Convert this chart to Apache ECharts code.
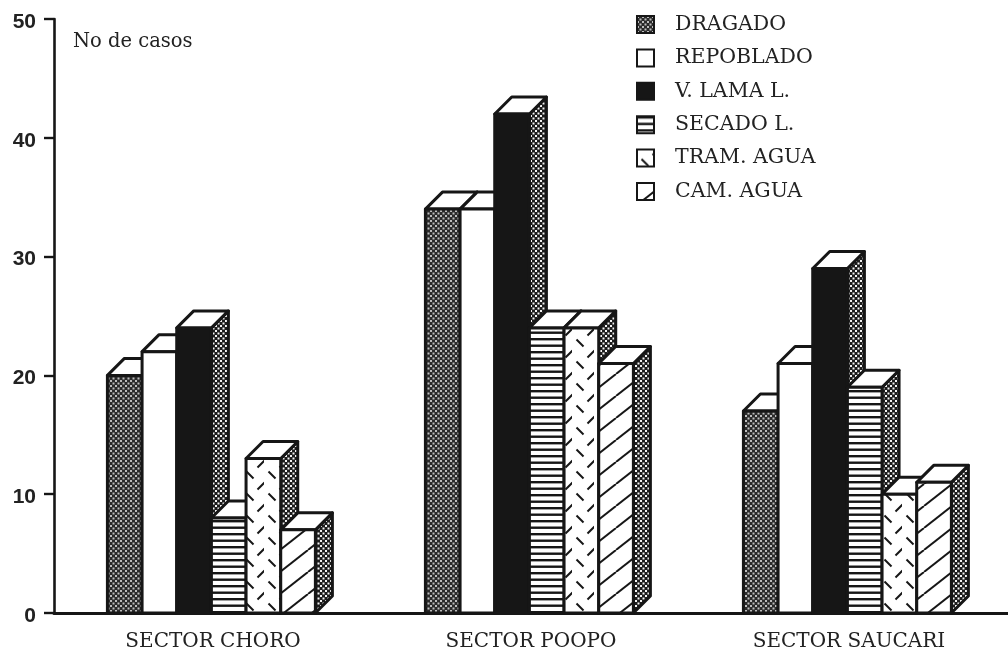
<!DOCTYPE html>
<html><head><meta charset="utf-8">
<style>html,body{margin:0;padding:0;background:#fff}#c{width:1008px;height:654px}</style>
<script src="https://cdn.jsdelivr.net/npm/echarts@6/dist/echarts.min.js"></script>
</head><body><div id="c"></div>
<script>
const categories = ['SECTOR CHORO','SECTOR POOPO','SECTOR SAUCARI'];
const seriesNames = ['DRAGADO','REPOBLADO','V. LAMA L.','SECADO L.','TRAM. AGUA','CAM. AGUA'];
const dragado   = [20,34,17];
const repoblado = [22,34,21];
const vLama     = [24,42,29];
const secado    = [8,24,19];
const tram      = [13,24,10];
const cam       = [7,21,11];
const allValues = [dragado,repoblado,vLama,secado,tram,cam];
const yTicks = {min:0,max:50,interval:10};

const INK='#161616';
function tile(w,h,draw){const c=document.createElement('canvas');c.width=w;c.height=h;const g=c.getContext('2d');draw(g);return {image:c,repeat:'repeat'};}
function dots(bg,fg){return tile(5,5,g=>{g.fillStyle=bg;g.fillRect(0,0,5,5);g.fillStyle=fg;g.fillRect(0,0,2,2);g.fillRect(2.5,2.5,2,2);});}
const pDrag=dots('#2a2a2a','#bdbdbd');
const pSide=dots('#1c1c1c','#f4f4f4');
const pWhite='#fff';
const pStripe=tile(6,13,g=>{g.fillStyle='#fff';g.fillRect(0,0,6,13);g.fillStyle=INK;g.fillRect(0,0,6,2.4);g.fillRect(0,6.5,6,2.4);});
const pTram=tile(22,22,g=>{g.fillStyle='#fff';g.fillRect(0,0,22,22);g.strokeStyle=INK;g.lineWidth=2;
  const s=(a,b,c,d)=>{g.beginPath();g.moveTo(a,b);g.lineTo(c,d);g.stroke();};
  s(4.5,9.5,11.5,16.5);
  for(const o of [0,22]) s(15.5,5.5+o,22.5,-1.5+o);
  });
const pCam=tile(28,22,g=>{g.fillStyle='#fff';g.fillRect(0,0,28,22);g.strokeStyle=INK;g.lineWidth=2;
  for(const o of [-28,0,28]){g.beginPath();g.moveTo(o,22);g.lineTo(o+28,0);g.stroke();}});
const fills=[pDrag,pWhite,INK,pStripe,pTram,pCam];

function maker(si){return function(params,api){
  const i=api.value(0),v=api.value(1);
  const band=api.size([1,0])[0];
  const w=band*0.109, d=17;
  const c=api.coord([i,v]),b=api.coord([i,0]);
  const x=c[0]+(si-3)*w-1.6, y=c[1], y0=b[1];
  const st={stroke:INK,lineWidth:3,lineJoin:'round'};
  return {type:'group',children:[
    {type:'polygon',shape:{points:[[x+w,y0],[x+w+d,y0-d],[x+w+d,y-d],[x+w,y]]},style:Object.assign({fill:pSide},st)},
    {type:'polygon',shape:{points:[[x,y],[x+w,y],[x+w+d,y-d],[x+d,y-d]]},style:Object.assign({fill:'#fff'},st)},
    {type:'rect',shape:{x:x,y:y,width:w,height:y0-y},style:Object.assign({fill:fills[si]},st)}
  ]};
};}

const chart=echarts.init(document.getElementById('c'),null,{renderer:'canvas'});
chart.setOption({
  animation:false,backgroundColor:'#fff',
  grid:{left:54,top:19,width:958.5,height:594,containLabel:false},
  title:{text:'No de casos',left:73,top:32,padding:0,textStyle:{fontFamily:'DejaVu Serif',fontSize:19.5,fontWeight:'normal',color:'#222'}},
  legend:{orient:'vertical',left:636,top:14,padding:0,itemWidth:17,itemHeight:17,itemGap:12.4,icon:'rect',
    textStyle:{fontFamily:'DejaVu Serif',fontSize:20.5,color:'#222',padding:[0,0,0,16],lineHeight:17},
    data:seriesNames.map(n=>({name:n}))},
  xAxis:{type:'category',data:categories,
    axisLine:{lineStyle:{color:INK,width:3}},
    axisTick:{length:6,lineStyle:{color:INK,width:1.5}},
    axisLabel:{fontFamily:'DejaVu Serif',fontSize:20,color:'#222',margin:19}},
  yAxis:{type:'value',min:yTicks.min,max:yTicks.max,interval:yTicks.interval,splitLine:{show:false},
    axisLine:{show:true,lineStyle:{color:INK,width:2.6}},
    axisTick:{show:true,length:10,lineStyle:{color:INK,width:2.4}},
    axisLabel:{fontFamily:'Liberation Sans',fontWeight:'bold',fontSize:21,color:'#222',margin:18,verticalAlign:'top',lineHeight:6}},
  series:seriesNames.map((n,si)=>({
    name:n,type:'custom',clip:false,renderItem:maker(si),
    itemStyle:{color:fills[si],borderColor:INK,borderWidth:3},
    encode:{x:0,y:1},
    data:allValues[si].map((v,i)=>[i,v])
  }))
});
</script></body></html>
